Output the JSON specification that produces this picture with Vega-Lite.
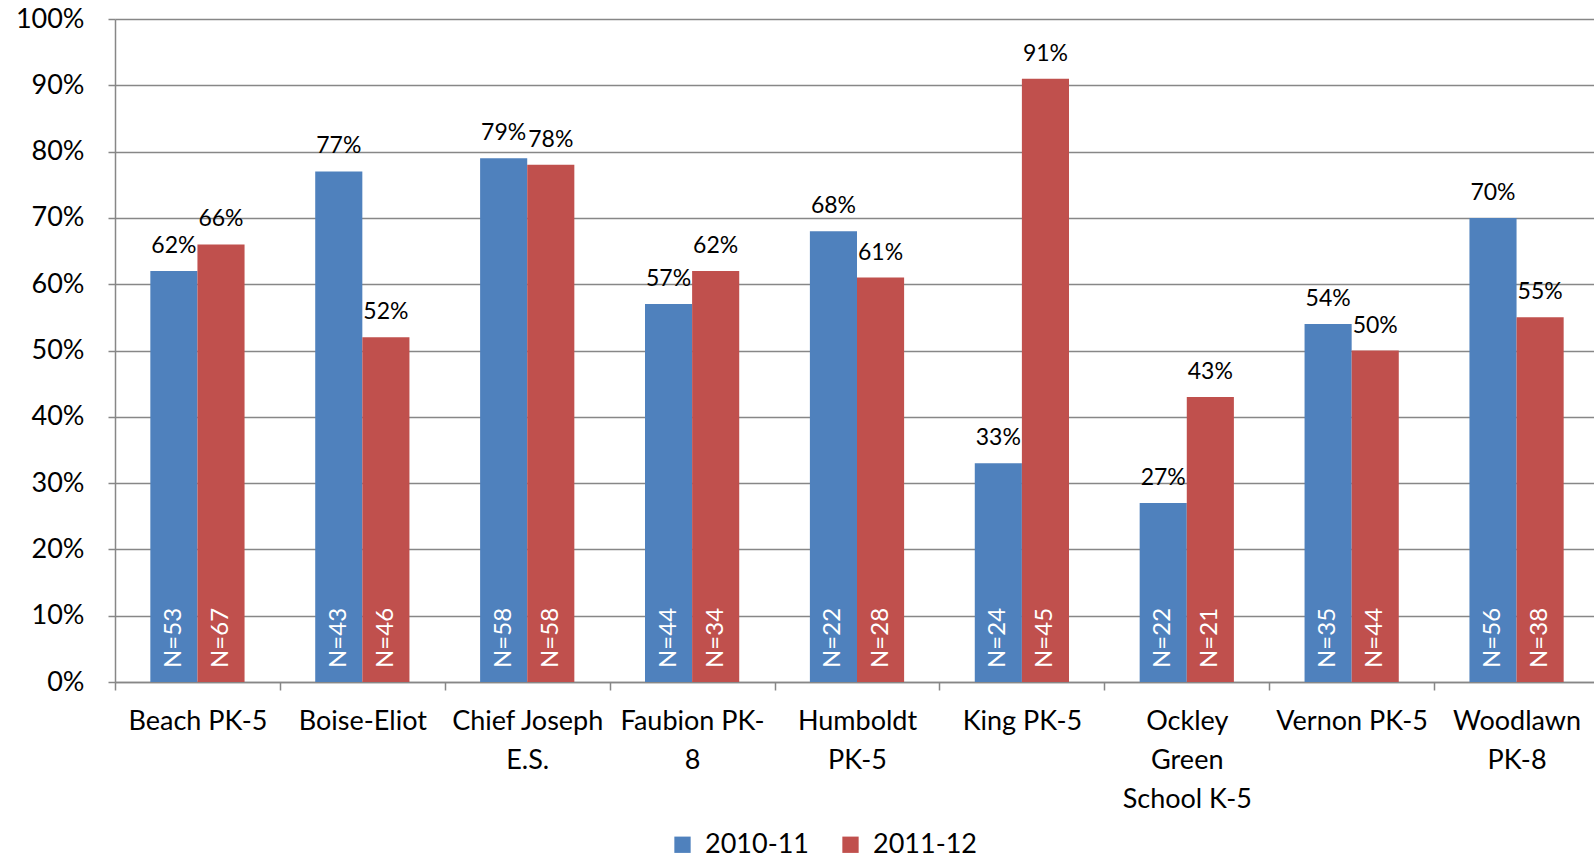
{
  "$schema": "https://vega.github.io/schema/vega-lite/v6.json",
  "width": 1484,
  "height": 663,
  "autosize": {"type": "none"},
  "padding": {"left": 115, "top": 19, "right": 0, "bottom": 177},
  "background": "white",
  "config": {
    "font": "Lato",
    "view": {"stroke": null},
    "axis": {"domainColor": "#878787", "tickColor": "#878787", "gridColor": "#878787", "domainWidth": 1.5, "tickWidth": 1.5, "gridWidth": 1.5, "labelColor": "black", "labelFont": "Lato"}
  },
  "data": {
    "values": [
      {"school": "Beach PK-5", "year": "2010-11", "pct": 0.62, "n": "N=53"},
      {"school": "Beach PK-5", "year": "2011-12", "pct": 0.66, "n": "N=67"},
      {"school": "Boise-Eliot", "year": "2010-11", "pct": 0.77, "n": "N=43"},
      {"school": "Boise-Eliot", "year": "2011-12", "pct": 0.52, "n": "N=46"},
      {"school": "Chief Joseph E.S.", "year": "2010-11", "pct": 0.79, "n": "N=58"},
      {"school": "Chief Joseph E.S.", "year": "2011-12", "pct": 0.78, "n": "N=58"},
      {"school": "Faubion PK-8", "year": "2010-11", "pct": 0.57, "n": "N=44"},
      {"school": "Faubion PK-8", "year": "2011-12", "pct": 0.62, "n": "N=34"},
      {"school": "Humboldt PK-5", "year": "2010-11", "pct": 0.68, "n": "N=22"},
      {"school": "Humboldt PK-5", "year": "2011-12", "pct": 0.61, "n": "N=28"},
      {"school": "King PK-5", "year": "2010-11", "pct": 0.33, "n": "N=24"},
      {"school": "King PK-5", "year": "2011-12", "pct": 0.91, "n": "N=45"},
      {"school": "Ockley Green School K-5", "year": "2010-11", "pct": 0.27, "n": "N=22"},
      {"school": "Ockley Green School K-5", "year": "2011-12", "pct": 0.43, "n": "N=21"},
      {"school": "Vernon PK-5", "year": "2010-11", "pct": 0.54, "n": "N=35"},
      {"school": "Vernon PK-5", "year": "2011-12", "pct": 0.50, "n": "N=44"},
      {"school": "Woodlawn PK-8", "year": "2010-11", "pct": 0.70, "n": "N=56"},
      {"school": "Woodlawn PK-8", "year": "2011-12", "pct": 0.55, "n": "N=38"}
    ]
  },
  "encoding": {
    "x": {
      "field": "school", "type": "nominal", "sort": null,
      "scale": {"paddingInner": 0, "paddingOuter": 0},
      "axis": {
        "title": null, "labelAngle": 0, "labelFontSize": 27, "labelBaseline": "top",
        "labelPadding": 18, "tickSize": 8, "tickBand": "extent", "labelLineHeight": 39,
        "labelOverlap": false, "labelLimit": 0, "labelBound": false, "grid": false,
        "labelExpr": "datum.value == 'Chief Joseph E.S.' ? ['Chief Joseph','E.S.'] : datum.value == 'Faubion PK-8' ? ['Faubion PK-','8'] : datum.value == 'Humboldt PK-5' ? ['Humboldt','PK-5'] : datum.value == 'Ockley Green School K-5' ? ['Ockley','Green','School K-5'] : datum.value == 'Woodlawn PK-8' ? ['Woodlawn','PK-8'] : datum.value"
      }
    },
    "xOffset": {"field": "year", "type": "nominal", "scale": {"paddingOuter": 0.75, "paddingInner": 0}}
  },
  "layer": [
    {
      "mark": {"type": "bar"},
      "encoding": {
        "y": {
          "field": "pct", "type": "quantitative",
          "scale": {"domain": [0, 1], "nice": false},
          "axis": {"title": null, "format": ".0%", "values": [0, 0.1, 0.2, 0.3, 0.4, 0.5, 0.6, 0.7, 0.8, 0.9, 1], "labelFontSize": 27, "tickSize": 7, "labelPadding": 24, "grid": true}
        },
        "color": {
          "field": "year", "type": "nominal",
          "scale": {"range": ["#4F81BD", "#C0504D"]},
          "legend": {"title": null, "orient": "none", "legendX": 554, "legendY": 812, "direction": "horizontal", "symbolType": "square", "symbolSize": 266, "symbolStrokeWidth": 0, "labelFontSize": 27, "labelOffset": 9, "columnPadding": 28, "labelColor": "black"}
        }
      }
    },
    {
      "mark": {"type": "text", "baseline": "bottom", "dy": -13, "fontSize": 23, "color": "black"},
      "encoding": {
        "y": {"field": "pct", "type": "quantitative"},
        "text": {"field": "pct", "type": "quantitative", "format": ".0%"}
      }
    },
    {
      "mark": {"type": "text", "angle": 270, "align": "left", "baseline": "middle", "dx": 14, "fontSize": 24, "color": "white"},
      "encoding": {
        "y": {"datum": 0, "type": "quantitative"},
        "text": {"field": "n", "type": "nominal"}
      }
    }
  ]
}
